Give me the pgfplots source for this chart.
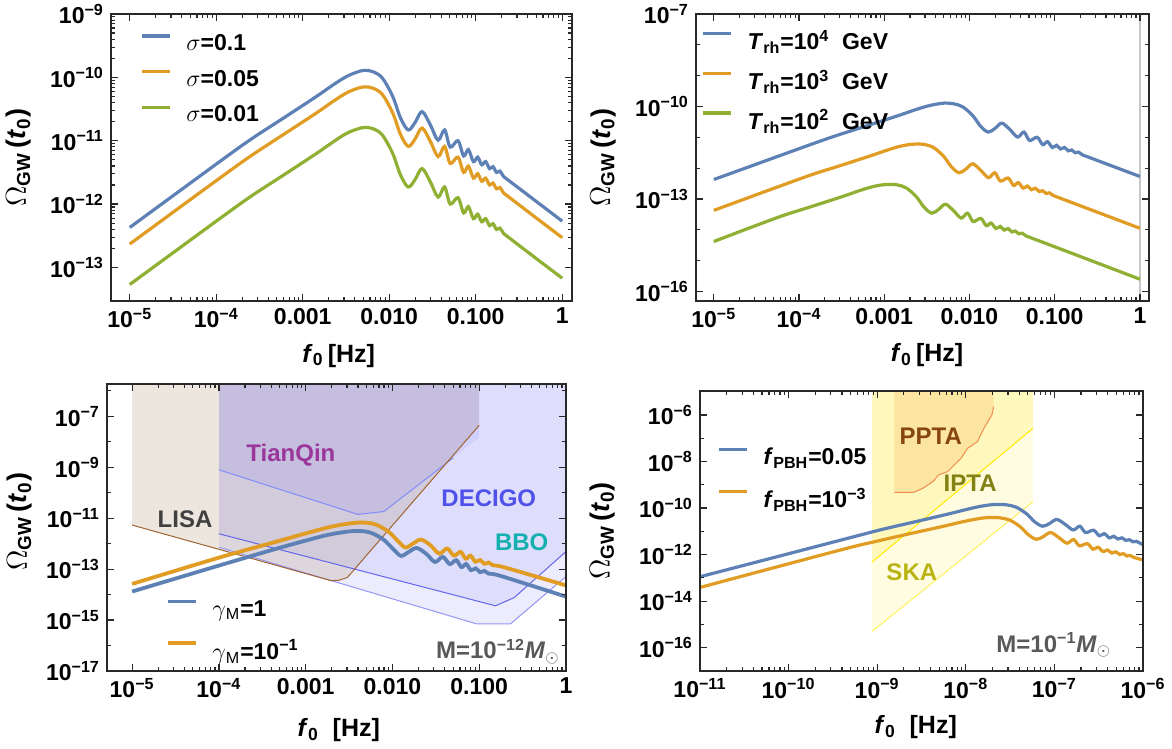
\documentclass[border=0pt]{standalone}
\usepackage{fontspec}
\setmainfont{Liberation Sans}
\usepackage{pgfplots}
\pgfplotsset{compat=1.18}

\definecolor{mblue}{RGB}{94,129,181}
\definecolor{morange}{RGB}{225,156,36}
\definecolor{mgreen}{RGB}{143,176,50}
\definecolor{framec}{RGB}{40,40,40}
\definecolor{bbofill}{RGB}{100,100,240}
\definecolor{lisafill}{RGB}{140,100,50}
\definecolor{tqfill}{RGB}{110,100,255}
\definecolor{lisaline}{RGB}{160,100,50}
\definecolor{decline}{RGB}{100,100,235}
\definecolor{bboline}{RGB}{150,150,245}
\definecolor{tqline}{RGB}{130,140,250}
\definecolor{ptafill}{RGB}{255,235,60}
\definecolor{pptafill}{RGB}{245,170,80}
\definecolor{pptaline}{RGB}{240,140,80}
\definecolor{iptaline}{RGB}{255,235,0}
\definecolor{skaline}{RGB}{255,240,90}

\newcommand\tsp[1]{\textsuperscript{#1}}
\newcommand\tsb[1]{\textsubscript{#1}}
\newcommand\flab{\textit{f}\tsb{0}\,[Hz]}
\newcommand\olab{$\Omega$\tsb{\textbf{GW}}\,(\textbf{\textit{t}}\tsb{\textbf{0}})}
\newcommand\lblfont{\fontsize{12}{14}\selectfont\bfseries}

\pgfplotsset{
  mma/.style={
    scale only axis, anchor=south west,
    axis on top,
    axis line style={framec, line width=0.9pt},
    tick style={framec, line width=0.6pt},
    major tick length=3.5pt, minor tick length=2pt,
    tick label style={font=\fontsize{11.5}{13}\selectfont\bfseries},
    xlabel style={font=\fontsize{12.5}{14}\selectfont\bfseries, anchor=center},
    ylabel style={font=\fontsize{13.5}{15}\selectfont\bfseries, anchor=center},
    legend style={draw=none, fill=none, anchor=north west, inner sep=0pt,
      font=\fontsize{11.5}{13}\selectfont\bfseries,
      nodes={inner sep=0pt},
      /tikz/every odd column/.append style={column sep=7.5pt}},
    legend cell align=left,
    legend image code/.code={\draw[##1, line width=1.6pt] (0pt,4pt) -- (14pt,4pt);},
  },
  curve/.style={smooth, tension=0.55, line width=1.6pt, no markers},
  region/.style={forget plot, draw=none, fill=#1},
  bound/.style={forget plot, line width=0.5pt, draw=#1, no markers},
}

\begin{document}
\begin{tikzpicture}
\path[use as bounding box] (0,0) rectangle (586pt,374.5pt);

% ---------------- top left: sigma ----------------
\begin{loglogaxis}[mma, at={(55.5pt,224pt)}, width=230.5pt, height=143.5pt,
  xmin=6.07e-6, xmax=1.297, ymin=2.95e-14, ymax=1e-9,
  xtick={1e-5,1e-4,1e-3,1e-2,1e-1,1},
  xticklabels={10\tsp{−5},10\tsp{−4},0.001,0.010,0.100,1},
  ytick={1e-13,1e-12,1e-11,1e-10,1e-9},
  yticklabels={10\tsp{−13},10\tsp{−12},10\tsp{−11},10\tsp{−10},10\tsp{−9}},
  xlabel={\flab}, ylabel={\olab},
  xlabel style={at={(axis description cs:0.494,-0.19)}},
  ylabel style={at={(axis description cs:-0.2,0.5)}},
  legend style={at={(axis description cs:0.0627,0.93)}, row sep=8.2pt},
]
\addplot[curve, mblue] coordinates {
(1e-5,4.27e-13) (1e-4,4.27e-12) (2.51e-4,1.05e-11) (6.03e-4,2.29e-11)
(1.445e-3,5.01e-11) (2.239e-3,7.59e-11) (3.162e-3,1.02e-10) (4.169e-3,1.20e-10)
(5.129e-3,1.29e-10) (6.457e-3,1.23e-10) (8.318e-3,9.77e-11) (1.096e-2,5.01e-11)
(1.349e-2,2.29e-11) (1.660e-2,1.48e-11) (1.995e-2,1.95e-11) (2.399e-2,2.88e-11)
(2.985e-2,1.78e-11) (3.673e-2,1.02e-11) (4.365e-2,1.48e-11) (5.070e-2,7.94e-12)
(6.237e-2,1.00e-11) (7.244e-2,5.75e-12) (8.222e-2,7.24e-12) (9.397e-2,4.68e-12)
(0.1054,5.50e-12) (0.1172,4.17e-12) (0.1303,4.68e-12) (0.1445,3.63e-12)
(0.1585,3.89e-12) (0.1738,3.16e-12) (0.1905,3.31e-12) (0.2089,2.75e-12)
(0.2366,2.40e-12) (0.5012,1.10e-12) (1,5.37e-13)};
\addlegendentry{$\sigma$=0.1}
\addplot[curve, morange] coordinates {
(1e-5,2.34e-13) (1e-4,2.34e-12) (2.51e-4,5.75e-12) (6.03e-4,1.26e-11)
(1.445e-3,2.75e-11) (2.239e-3,4.17e-11) (3.162e-3,5.62e-11) (4.169e-3,6.61e-11)
(5.129e-3,7.08e-11) (6.457e-3,6.76e-11) (8.318e-3,5.37e-11) (1.096e-2,2.75e-11)
(1.349e-2,1.26e-11) (1.660e-2,8.13e-12) (1.995e-2,1.07e-11) (2.399e-2,1.58e-11)
(2.985e-2,9.77e-12) (3.673e-2,5.62e-12) (4.365e-2,8.13e-12) (5.070e-2,4.37e-12)
(6.237e-2,5.50e-12) (7.244e-2,3.16e-12) (8.222e-2,3.98e-12) (9.397e-2,2.57e-12)
(0.1054,3.02e-12) (0.1172,2.29e-12) (0.1303,2.57e-12) (0.1445,2.00e-12)
(0.1585,2.14e-12) (0.1738,1.74e-12) (0.1905,1.82e-12) (0.2089,1.51e-12)
(0.2366,1.32e-12) (0.5012,6.03e-13) (1,2.95e-13)};
\addlegendentry{$\sigma$=0.05}
\addplot[curve, mgreen] coordinates {
(1e-5,5.37e-14) (1e-4,5.37e-13) (2.51e-4,1.32e-12) (6.03e-4,2.88e-12)
(1.445e-3,6.31e-12) (2.239e-3,9.55e-12) (3.162e-3,1.29e-11) (4.169e-3,1.51e-11)
(5.129e-3,1.62e-11) (6.457e-3,1.55e-11) (8.318e-3,1.23e-11) (1.096e-2,6.31e-12)
(1.349e-2,2.88e-12) (1.660e-2,1.86e-12) (1.995e-2,2.45e-12) (2.399e-2,3.63e-12)
(2.985e-2,2.24e-12) (3.673e-2,1.29e-12) (4.365e-2,1.86e-12) (5.070e-2,1.00e-12)
(6.237e-2,1.26e-12) (7.244e-2,7.24e-13) (8.222e-2,9.12e-13) (9.397e-2,5.89e-13)
(0.1054,6.92e-13) (0.1172,5.25e-13) (0.1303,5.89e-13) (0.1445,4.57e-13)
(0.1585,4.90e-13) (0.1738,3.98e-13) (0.1905,4.17e-13) (0.2089,3.47e-13)
(0.2366,3.02e-13) (0.5012,1.38e-13) (1,6.76e-14)};
\addlegendentry{$\sigma$=0.01}
\end{loglogaxis}

% ---------------- top right: T_rh ----------------
\begin{loglogaxis}[mma, at={(348pt,224pt)}, width=226.5pt, height=143.5pt,
  xmin=6.18e-6, xmax=1.279, ymin=4.9e-17, ymax=1e-7,
  xtick={1e-5,1e-4,1e-3,1e-2,1e-1,1},
  xticklabels={10\tsp{−5},10\tsp{−4},0.001,0.010,0.100,1},
  ytick={1e-16,1e-13,1e-10,1e-7},
  yticklabels={10\tsp{−16},10\tsp{−13},10\tsp{−10},10\tsp{−7}},
  minor ytick={1e-15,1e-14,1e-12,1e-11,1e-9,1e-8},
  xlabel={\flab}, ylabel={\olab},
  xlabel style={at={(axis description cs:0.51,-0.19)}},
  ylabel style={at={(axis description cs:-0.205,0.5)}},
  legend style={at={(axis description cs:0.011,0.945)}, row sep=8.4pt},
]
\addplot[forget plot, black!22, line width=0.7pt] coordinates {(1,4.9e-17) (1,1e-7)};
\addplot[curve, mblue] coordinates {
(1e-5,4.27e-13) (1e-4,4.27e-12) (2.51e-4,1.05e-11) (6.03e-4,2.29e-11)
(1.445e-3,5.01e-11) (2.239e-3,7.59e-11) (3.162e-3,1.02e-10) (4.169e-3,1.20e-10)
(5.129e-3,1.29e-10) (6.457e-3,1.23e-10) (8.318e-3,9.77e-11) (1.096e-2,5.01e-11)
(1.349e-2,2.29e-11) (1.660e-2,1.48e-11) (1.995e-2,1.95e-11) (2.399e-2,2.88e-11)
(2.985e-2,1.78e-11) (3.673e-2,1.02e-11) (4.365e-2,1.48e-11) (5.070e-2,7.94e-12)
(6.237e-2,1.00e-11) (7.244e-2,5.75e-12) (8.222e-2,7.24e-12) (9.397e-2,4.68e-12)
(0.1054,5.50e-12) (0.1172,4.17e-12) (0.1303,4.68e-12) (0.1445,3.63e-12)
(0.1585,3.89e-12) (0.1738,3.16e-12) (0.1905,3.31e-12) (0.2089,2.75e-12)
(0.2366,2.40e-12) (0.5012,1.10e-12) (1,5.37e-13)};
\addlegendentry{\textit{T}\tsb{rh}=10\tsp{4}\ \ GeV}
\addplot[curve, morange] coordinates {
(1e-5,4.27e-14) (1.143e-4,5.01e-13) (2.742e-4,1.10e-12) (6.577e-4,2.40e-12)
(1.019e-3,3.63e-12) (1.439e-3,4.90e-12) (1.897e-3,5.75e-12) (2.333e-3,6.03e-12)
(2.938e-3,5.89e-12) (3.784e-3,4.68e-12) (4.989e-3,2.40e-12) (6.138e-3,1.10e-12)
(7.551e-3,7.08e-13) (9.078e-3,9.33e-13) (1.091e-2,1.38e-12) (1.358e-2,8.51e-13)
(1.671e-2,4.90e-13) (1.986e-2,7.08e-13) (2.307e-2,3.80e-13) (2.838e-2,4.79e-13)
(3.296e-2,2.75e-13) (3.741e-2,3.39e-13) (4.276e-2,2.24e-13) (4.797e-2,2.63e-13)
(5.333e-2,2.00e-13) (5.929e-2,2.24e-13) (6.577e-2,1.74e-13) (7.211e-2,1.86e-13)
(7.907e-2,1.51e-13) (8.670e-2,1.58e-13) (9.506e-2,1.32e-13) (0.1076,1.15e-13)
(0.2280,5.25e-14) (1,1.12e-14)};
\addlegendentry{\textit{T}\tsb{rh}=10\tsp{3}\ \ GeV}
\addplot[curve, mgreen] coordinates {
(1e-5,4.17e-15) (5.470e-5,2.45e-14) (1.312e-4,5.37e-14) (3.148e-4,1.17e-13)
(4.875e-4,1.78e-13) (6.887e-4,2.40e-13) (9.078e-4,2.82e-13) (1.117e-3,2.95e-13)
(1.406e-3,2.88e-13) (1.811e-3,2.29e-13) (2.388e-3,1.17e-13) (2.938e-3,5.37e-14)
(3.614e-3,3.47e-14) (4.345e-3,4.57e-14) (5.224e-3,6.76e-14) (6.501e-3,4.17e-14)
(8.0e-3,2.40e-14) (9.506e-3,3.47e-14) (1.104e-2,1.86e-14) (1.358e-2,2.34e-14)
(1.578e-2,1.35e-14) (1.791e-2,1.66e-14) (2.046e-2,1.10e-14) (2.296e-2,1.29e-14)
(2.553e-2,9.77e-15) (2.838e-2,1.10e-14) (3.148e-2,8.51e-15) (3.451e-2,9.12e-15)
(3.784e-2,7.41e-15) (4.150e-2,7.76e-15) (4.550e-2,6.46e-15) (5.152e-2,5.62e-15)
(0.1091,2.57e-15) (1,2.5e-16)};
\addlegendentry{\textit{T}\tsb{rh}=10\tsp{2}\ \ GeV}
\end{loglogaxis}

% ---------------- bottom left: detectors ----------------
\begin{loglogaxis}[mma, at={(53.5pt,39pt)}, width=229.5pt, height=143.5pt,
  xmin=5.13e-6, xmax=1, ymin=1e-17, ymax=1.86e-6,
  xtick={1e-5,1e-4,1e-3,1e-2,1e-1,1},
  xticklabels={10\tsp{−5},10\tsp{−4},0.001,0.010,0.100,1},
  ytick={1e-17,1e-15,1e-13,1e-11,1e-9,1e-7},
  yticklabels={10\tsp{−17},10\tsp{−15},10\tsp{−13},10\tsp{−11},10\tsp{−9},10\tsp{−7}},
  minor ytick={1e-16,1e-14,1e-12,1e-10,1e-8,1e-6},
  xlabel={\textit{f}\tsb{0}\ \ [Hz]}, ylabel={\olab},
  xlabel style={at={(axis description cs:0.505,-0.205)}},
  ylabel style={at={(axis description cs:-0.19,0.52)}},
  legend style={at={(axis description cs:0.128,0.248)}, row sep=10.2pt},
]
% BBO
\addplot[region=bbofill, fill opacity=0.12] coordinates {
(1e-4,1e-4) (1e-4,7.24e-13) (9.333e-2,7.08e-16) (2.291e-1,7.08e-16) (1,5.13e-14) (1,1e-4)};
% DECIGO
\addplot[region=bbofill, fill opacity=0.10] coordinates {
(1e-4,1e-4) (1e-4,2.45e-12) (1.542e-1,3.63e-15) (2.523e-1,7.59e-15) (1,4.90e-13) (1,1e-4)};
% LISA
\addplot[region=lisafill, fill opacity=0.16] coordinates {
(1e-5,1e-4) (1e-5,5.37e-12) (1.950e-3,3.55e-14) (2.399e-3,3.63e-14) (3.020e-3,4.68e-14)
(0.1,4.47e-8) (0.1,1e-4)};
% TianQin
\addplot[region=tqfill, fill opacity=0.12] coordinates {
(1e-4,1e-4) (1e-4,7.94e-10) (3.981e-3,1.41e-11) (7.943e-3,1.82e-11) (5.012e-2,2.34e-9)
(0.1,1.48e-8) (0.1,1e-4)};
\addplot[bound=bboline] coordinates {
(1e-4,7.24e-13) (9.333e-2,7.08e-16) (2.291e-1,7.08e-16) (1,5.13e-14)};
\addplot[bound=decline] coordinates {
(1e-4,2.45e-12) (1.542e-1,3.63e-15) (2.523e-1,7.59e-15) (1,4.90e-13)};
\addplot[bound=tqline] coordinates {
(1e-4,7.94e-10) (3.981e-3,1.41e-11) (7.943e-3,1.82e-11) (5.012e-2,2.34e-9)};
\addplot[bound=lisaline] coordinates {
(1e-5,5.37e-12) (1.950e-3,3.55e-14) (2.399e-3,3.63e-14) (3.020e-3,4.68e-14) (0.1,4.47e-8)};
\node[font=\lblfont, text=black!75] at (axis cs:4.07e-5,9.12e-12) {LISA};
\node[font=\lblfont, text={rgb,255:red,155;green,55;blue,155}] at (axis cs:6.76e-4,3.09e-9) {TianQin};
\node[font=\lblfont, text={rgb,255:red,80;green,80;blue,235}] at (axis cs:1.288e-1,6.17e-11) {DECIGO};
\node[font=\lblfont, text={rgb,255:red,20;green,175;blue,175}] at (axis cs:3.09e-1,1.15e-12) {BBO};
\node[font=\lblfont, text=black!65] at (axis cs:1.64e-1,5.75e-17) {M=10\tsp{−12}\textit{M}\tsb{$\odot$}};
\addplot[curve, mblue, line width=1.9pt] coordinates {
(1e-5,1.32e-14) (1e-4,1.38e-13) (3.98e-4,5.50e-13) (1e-3,1.32e-12) (1.778e-3,2.19e-12)
(2.818e-3,2.88e-12) (3.981e-3,3.16e-12) (5.623e-3,2.69e-12) (7.943e-3,1.41e-12)
(1.047e-2,5.62e-13) (1.259e-2,3.31e-13) (1.549e-2,4.79e-13) (1.905e-2,6.76e-13)
(2.455e-2,3.98e-13) (3.090e-2,1.91e-13) (3.802e-2,3.02e-13) (4.571e-2,1.58e-13)
(5.433e-2,2.24e-13) (6.237e-2,1.20e-13) (7.079e-2,1.58e-13) (8.035e-2,9.12e-14)
(9.120e-2,1.07e-13) (0.1023,7.59e-14) (0.1148,8.51e-14) (0.1288,6.61e-14)
(0.1778,5.37e-14) (1,8.32e-15)};
\addlegendentry{$\gamma$\tsb{\mdseries M}=1}
\addplot[curve, morange, line width=1.9pt] coordinates {
(1e-5,2.63e-14) (1e-4,2.82e-13) (4.467e-4,1.17e-12) (1.122e-3,2.82e-12) (1.995e-3,4.68e-12)
(3.162e-3,6.17e-12) (4.467e-3,6.76e-12) (6.310e-3,5.75e-12) (8.913e-3,3.02e-12)
(1.175e-2,1.20e-12) (1.413e-2,7.08e-13) (1.738e-2,1.02e-12) (2.138e-2,1.45e-12)
(2.754e-2,8.51e-13) (3.467e-2,4.07e-13) (4.266e-2,6.46e-13) (5.129e-2,3.39e-13)
(6.095e-2,4.79e-13) (6.998e-2,2.57e-13) (7.943e-2,3.39e-13) (9.016e-2,1.95e-13)
(0.1023,2.29e-13) (0.1148,1.62e-13) (0.1288,1.82e-13) (0.1445,1.41e-13)
(0.1995,1.15e-13) (1,2.29e-14)};
\addlegendentry{$\gamma$\tsb{\mdseries M}=10\tsp{−1}}
\end{loglogaxis}

% ---------------- bottom right: PTA ----------------
\begin{loglogaxis}[mma, at={(350pt,39pt)}, width=221.5pt, height=140pt,
  xmin=1e-11, xmax=1e-6, ymin=1e-17, ymax=1.07e-5,
  xtick={1e-11,1e-10,1e-9,1e-8,1e-7,1e-6},
  xticklabels={10\tsp{−11},10\tsp{−10},10\tsp{−9},10\tsp{−8},10\tsp{−7},10\tsp{−6}},
  ytick={1e-16,1e-14,1e-12,1e-10,1e-8,1e-6},
  yticklabels={10\tsp{−16},10\tsp{−14},10\tsp{−12},10\tsp{−10},10\tsp{−8},10\tsp{−6}},
  minor ytick={1e-17,1e-15,1e-13,1e-11,1e-9,1e-7,1e-5},
  xlabel={\textit{f}\tsb{0}\ \ [Hz]}, ylabel={\olab},
  xlabel style={at={(axis description cs:0.487,-0.2)}},
  ylabel style={at={(axis description cs:-0.22,0.5)}},
  legend style={at={(axis description cs:0.0386,0.798)}, row sep=10.2pt},
]
% SKA
\addplot[region=ptafill, fill opacity=0.15] coordinates {
(8.69e-10,1e-4) (8.69e-10,4.90e-16) (5.74e-8,1.88e-10) (5.74e-8,1e-4)};
% IPTA
\addplot[region=ptafill, fill opacity=0.22] coordinates {
(8.69e-10,1e-4) (8.69e-10,4.68e-13) (5.74e-8,2.67e-7) (5.74e-8,1e-4)};
% PPTA
\addplot[region=pptafill, fill opacity=0.26] coordinates {
(1.563e-9,1e-4) (1.563e-9,4.74e-10) (2.582e-9,4.74e-10) (3.266e-9,7.05e-10)
(4.345e-9,1.455e-9) (4.909e-9,2.636e-9) (6.22e-9,3.66e-9) (8.83e-9,1.374e-8)
(1.047e-8,3.69e-8) (1.352e-8,7.14e-8) (1.603e-8,2.67e-7) (1.972e-8,1e-6)
(2.065e-8,2.28e-6) (2.065e-8,1e-4)};
\addplot[bound=skaline] coordinates {(8.69e-10,4.90e-16) (5.74e-8,1.88e-10)};
\addplot[bound=iptaline] coordinates {(8.69e-10,4.68e-13) (5.74e-8,2.67e-7)};
\addplot[bound=pptaline] coordinates {
(1.563e-9,4.74e-10) (2.582e-9,4.74e-10) (3.266e-9,7.05e-10)
(4.345e-9,1.455e-9) (4.909e-9,2.636e-9) (6.22e-9,3.66e-9) (8.83e-9,1.374e-8)
(1.047e-8,3.69e-8) (1.352e-8,7.14e-8) (1.603e-8,2.67e-7) (1.972e-8,1e-6)
(2.065e-8,2.28e-6)};
\node[font=\lblfont, text={rgb,255:red,135;green,70;blue,15}] at (axis cs:4.03e-9,1.17e-7) {PPTA};
\node[font=\lblfont, text={rgb,255:red,130;green,130;blue,20}] at (axis cs:1.12e-8,1.15e-9) {IPTA};
\node[font=\lblfont, text={rgb,255:red,185;green,180;blue,20}] at (axis cs:2.46e-9,1.74e-13) {SKA};
\node[font=\lblfont, text=black!65] at (axis cs:9.84e-8,1.29e-16) {M=10\tsp{−1}\textit{M}\tsb{$\odot$}};
\addplot[curve, mblue] coordinates {
(1e-11,1.12e-13) (4.436e-10,4.79e-12) (1.114e-9,1.19e-11) (2.673e-9,2.57e-11)
(6.412e-9,5.62e-11) (9.93e-9,8.51e-11) (1.403e-8,1.15e-10) (1.849e-8,1.36e-10)
(2.275e-8,1.43e-10) (2.864e-8,1.38e-10) (3.690e-8,1.10e-10) (4.864e-8,5.62e-11)
(5.984e-8,2.57e-11) (7.362e-8,1.66e-11) (8.851e-8,2.19e-11) (1.064e-7,3.24e-11)
(1.324e-7,2.00e-11) (1.629e-7,1.15e-11) (1.936e-7,1.66e-11) (2.249e-7,8.91e-12)
(2.767e-7,1.12e-11) (3.214e-7,6.46e-12) (3.648e-7,7.94e-12) (4.169e-7,5.25e-12)
(4.677e-7,6.17e-12) (5.200e-7,4.68e-12) (5.781e-7,5.25e-12) (6.412e-7,4.07e-12)
(7.031e-7,4.37e-12) (7.709e-7,3.55e-12) (8.453e-7,3.72e-12) (9.268e-7,3.09e-12)
(1e-6,2.69e-12)};
\addlegendentry{\textit{f}\tsb{PBH}=0.05}
\addplot[curve, morange] coordinates {
(1e-11,3.89e-14) (3.776e-10,1.55e-12) (9.484e-10,3.63e-12) (2.275e-9,7.76e-12)
(5.458e-9,1.62e-11) (8.453e-9,2.40e-11) (1.194e-8,3.16e-11) (1.574e-8,3.76e-11)
(1.936e-8,3.94e-11) (2.438e-8,3.80e-11) (3.141e-8,3.02e-11) (4.140e-8,1.55e-11)
(5.093e-8,7.08e-12) (6.266e-8,4.57e-12) (7.534e-8,6.03e-12) (9.057e-8,8.91e-12)
(1.127e-7,5.37e-12) (1.387e-7,3.09e-12) (1.648e-7,4.47e-12) (1.914e-7,2.40e-12)
(2.355e-7,2.95e-12) (2.735e-7,1.70e-12) (3.105e-7,2.09e-12) (3.548e-7,1.35e-12)
(3.981e-7,1.58e-12) (4.426e-7,1.17e-12) (4.920e-7,1.32e-12) (5.458e-7,1.02e-12)
(5.984e-7,1.10e-12) (6.561e-7,8.71e-13) (7.194e-7,9.12e-13) (7.889e-7,7.59e-13)
(1e-6,5.89e-13)};
\addlegendentry{\textit{f}\tsb{PBH}=10\tsp{−3}}
\end{loglogaxis}
\end{tikzpicture}
\end{document}
